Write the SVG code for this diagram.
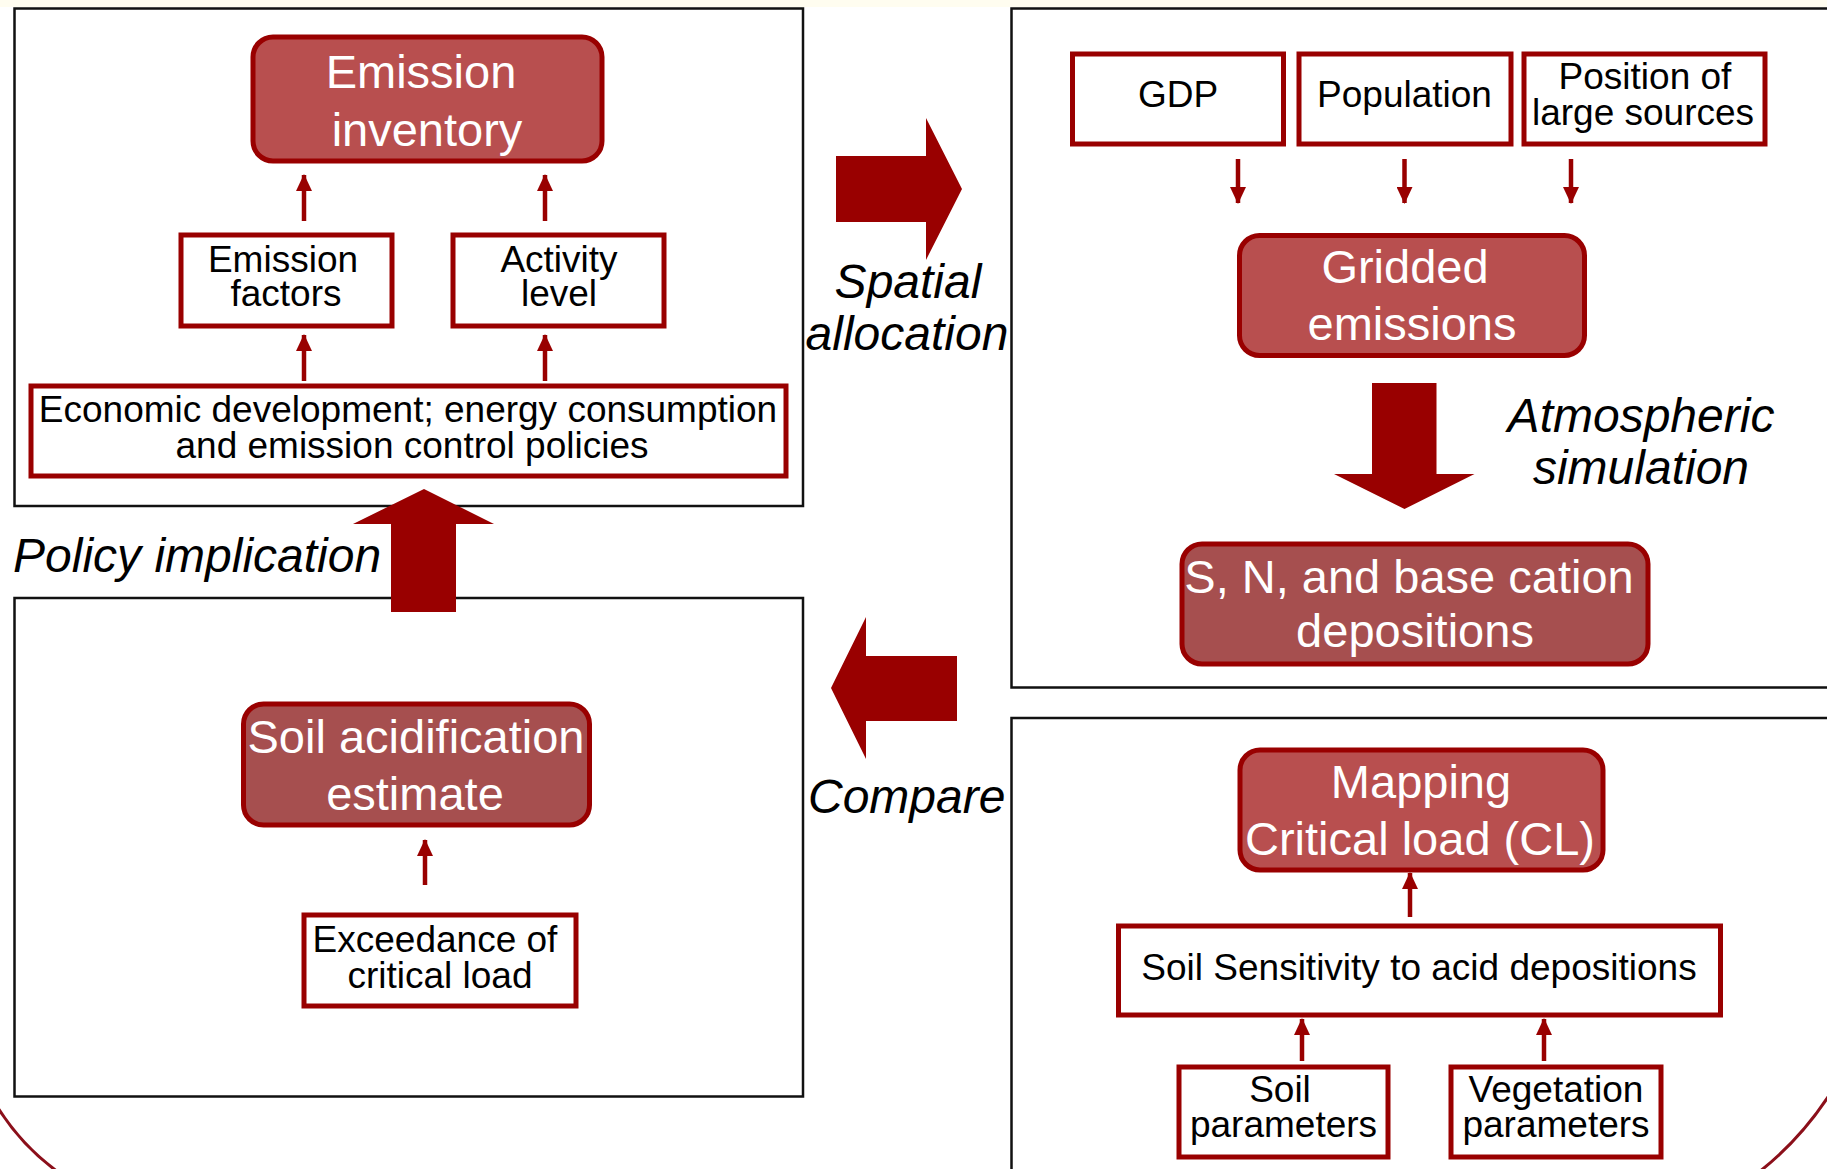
<svg xmlns="http://www.w3.org/2000/svg" width="1827" height="1169" viewBox="0 0 1827 1169">
<defs>
<style>
.panel{fill:#fff;stroke:#111;stroke-width:2.5}
.main{stroke:#990000;stroke-width:5}
.mA{fill:#B84F4F}
.mB{fill:#A64F4F}
.sub{fill:#fff;stroke:#990000;stroke-width:5}
.wt{font-family:"Liberation Sans",Arial,sans-serif;font-size:47px;fill:#fff;text-anchor:middle}
.bt{font-family:"Liberation Sans",Arial,sans-serif;font-size:37px;fill:#000;text-anchor:middle}
.it{font-family:"Liberation Sans",Arial,sans-serif;font-size:48px;font-style:italic;fill:#000}
.ln{stroke:#990000;stroke-width:4.5;fill:none}
.big{fill:#990000}
.arc{stroke:#8B0F1A;stroke-width:3;fill:none}
</style>
<marker id="ah" viewBox="0 0 17 16" refX="16" refY="8" markerWidth="17" markerHeight="16" markerUnits="userSpaceOnUse" orient="auto">
<path d="M0 0 L17 8 L0 16 Z" fill="#990000"/>
</marker>
</defs>
<rect x="0" y="0" width="1827" height="1169" fill="#fff"/>
<rect x="0" y="0" width="1827" height="7" fill="#FFFDF0"/>

<g id="panel-emission"><rect class="panel" x="14.5" y="8.5" width="788.5" height="497.5"/></g>
<g id="panel-deposition"><rect class="panel" x="1011.5" y="8.5" width="830" height="679"/></g>
<g id="panel-acidification"><rect class="panel" x="14.5" y="598" width="788.5" height="498.5"/></g>
<g id="panel-criticalload"><rect class="panel" x="1011.5" y="718" width="830" height="470"/></g>

<path class="arc" d="M-2 1108 Q22 1146 58 1172"/>
<path class="arc" d="M1830 1094 Q1800 1140 1759 1172"/>

<g id="connectors">
<line class="ln" x1="304" y1="221" x2="304" y2="175" marker-end="url(#ah)"/>
<line class="ln" x1="545" y1="221" x2="545" y2="175" marker-end="url(#ah)"/>
<line class="ln" x1="304" y1="381" x2="304" y2="335" marker-end="url(#ah)"/>
<line class="ln" x1="545" y1="381" x2="545" y2="335" marker-end="url(#ah)"/>
<line class="ln" x1="425" y1="885" x2="425" y2="840" marker-end="url(#ah)"/>
<line class="ln" x1="1238" y1="159" x2="1238" y2="203" marker-end="url(#ah)"/>
<line class="ln" x1="1404.5" y1="159" x2="1404.5" y2="203" marker-end="url(#ah)"/>
<line class="ln" x1="1571" y1="159" x2="1571" y2="203" marker-end="url(#ah)"/>
<line class="ln" x1="1410" y1="917" x2="1410" y2="873" marker-end="url(#ah)"/>
<line class="ln" x1="1302" y1="1061" x2="1302" y2="1019" marker-end="url(#ah)"/>
<line class="ln" x1="1544" y1="1061" x2="1544" y2="1019" marker-end="url(#ah)"/>
<polygon id="arrow-spatial" class="big" points="836,156 926,156 926,118 962,189 926,260 926,222 836,222"/>
<polygon id="arrow-atmos" class="big" points="1372,383 1436.5,383 1436.5,474 1474.5,474 1404.5,509 1334,474 1372,474"/>
<polygon id="arrow-compare" class="big" points="957,656 866,656 866,617 831,688 866,759 866,721 957,721"/>
<polygon id="arrow-policy" class="big" points="391,612 391,524 353,524 424,489 494,524 456,524 456,612"/>
</g>

<g id="label-spatial"><text class="it" x="908" y="298" text-anchor="middle">Spatial</text><text class="it" x="907" y="350" text-anchor="middle">allocation</text></g>
<g id="label-atmos"><text class="it" x="1641" y="432" text-anchor="middle">Atmospheric</text><text class="it" x="1641" y="484" text-anchor="middle">simulation</text></g>
<g id="label-policy"><text class="it" x="13" y="572">Policy implication</text></g>
<g id="label-compare"><text class="it" x="808" y="813">Compare</text></g>

<g id="emission-inventory"><rect class="main mA" x="253" y="37" width="349" height="124" rx="20"/>
<text class="wt" x="421" y="88">Emission</text><text class="wt" x="427" y="146">inventory</text></g>
<g id="emission-factors"><rect class="sub" x="181" y="235" width="211" height="91"/>
<text class="bt" x="283" y="272">Emission</text><text class="bt" x="286" y="306">factors</text></g>
<g id="activity-level"><rect class="sub" x="453" y="235" width="211" height="91"/>
<text class="bt" x="559" y="272">Activity</text><text class="bt" x="559" y="306">level</text></g>
<g id="economic"><rect class="sub" x="31" y="386" width="755" height="90"/>
<text class="bt" x="408" y="422">Economic development; energy consumption</text><text class="bt" x="412" y="458">and emission control policies</text></g>

<g id="gdp"><rect class="sub" x="1072.5" y="54" width="211" height="90"/><text class="bt" x="1178" y="107">GDP</text></g>
<g id="population"><rect class="sub" x="1299" y="54" width="212" height="90"/><text class="bt" x="1404.5" y="107">Population</text></g>
<g id="position"><rect class="sub" x="1524" y="54" width="241" height="90"/><text class="bt" x="1645" y="89">Position of</text><text class="bt" x="1643" y="125">large sources</text></g>
<g id="gridded-emissions"><rect class="main mA" x="1239.5" y="235.5" width="345" height="120" rx="20"/>
<text class="wt" x="1405" y="283">Gridded</text><text class="wt" x="1412" y="340">emissions</text></g>
<g id="depositions"><rect class="main mB" x="1182" y="544" width="466" height="120" rx="20"/>
<text class="wt" x="1409" y="593">S, N, and base cation</text><text class="wt" x="1415" y="647">depositions</text></g>

<g id="soil-acidification"><rect class="main mB" x="243.5" y="704" width="346" height="121" rx="20"/>
<text class="wt" x="416" y="753">Soil acidification</text><text class="wt" x="415" y="810">estimate</text></g>
<g id="exceedance"><rect class="sub" x="304" y="915" width="272" height="91"/>
<text class="bt" x="435" y="952">Exceedance of</text><text class="bt" x="440" y="988">critical load</text></g>

<g id="mapping-cl"><rect class="main mA" x="1240" y="750" width="363" height="120" rx="20"/>
<text class="wt" x="1421" y="798">Mapping</text><text class="wt" x="1420" y="855">Critical load (CL)</text></g>
<g id="soil-sensitivity"><rect class="sub" x="1118.5" y="926" width="602" height="89"/>
<text class="bt" x="1419" y="980">Soil Sensitivity to acid depositions</text></g>
<g id="soil-parameters"><rect class="sub" x="1179" y="1067" width="209" height="90"/>
<text class="bt" x="1280" y="1102">Soil</text><text class="bt" x="1283.5" y="1137">parameters</text></g>
<g id="vegetation-parameters"><rect class="sub" x="1451" y="1067" width="210" height="90"/>
<text class="bt" x="1556" y="1102">Vegetation</text><text class="bt" x="1556" y="1137">parameters</text></g>
</svg>
